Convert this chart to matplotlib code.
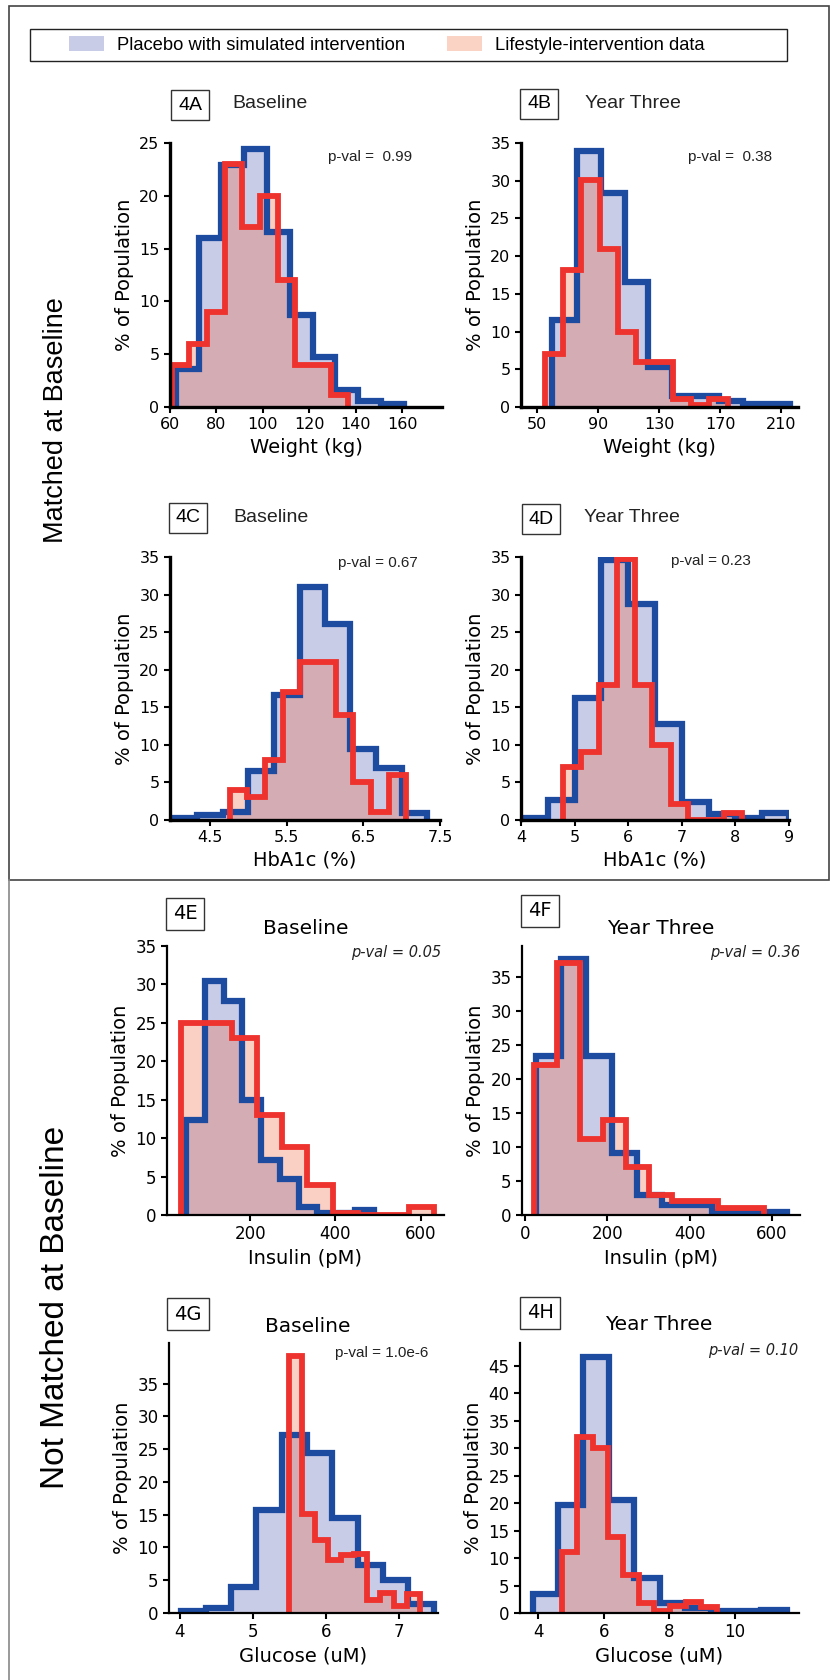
import matplotlib
matplotlib.use("Agg")
import matplotlib.pyplot as plt
from matplotlib.patches import Patch, Rectangle
from matplotlib.lines import Line2D

# ---- data (bin edges and % of population) ----
# 4A weight, baseline
a_blue_edges = [62.5, 72.3, 82.1, 91.9, 101.7, 111.5, 121.3, 131.1, 140.9, 150.7, 160.5]
a_blue = [3.6, 16.0, 22.9, 24.4, 16.6, 8.7, 4.7, 1.6, 0.6, 0.3]
a_red_edges = [60.7, 68.3, 75.9, 83.5, 91.1, 98.7, 106.3, 113.9, 121.5, 129.1, 136.7]
a_red = [4.0, 6.0, 9.0, 23.0, 17.0, 20.0, 12.0, 4.0, 4.0, 1.1]
# 4B weight, year three
b_blue_edges = [60, 76, 92, 107.5, 123, 138.5, 154, 169.5, 185, 200.5, 216]
b_blue = [11.6, 34.0, 28.4, 16.6, 5.3, 1.5, 1.4, 0.8, 0.4, 0.4]
b_red_edges = [55, 67, 79, 91, 103, 115, 127, 139, 151, 163, 175]
b_red = [7.0, 18.1, 30.1, 21.0, 9.9, 6.0, 6.0, 1.0, 0.2, 1.0]
# 4C HbA1c, baseline
c_blue_edges = [4.0, 4.33, 4.67, 5.0, 5.33, 5.67, 6.0, 6.33, 6.67, 7.0, 7.33]
c_blue = [0.2, 0.6, 1.1, 6.5, 16.6, 31.0, 26.1, 9.4, 6.9, 0.9]
c_red_edges = [4.76, 4.99, 5.22, 5.45, 5.68, 5.91, 6.14, 6.37, 6.60, 6.83, 7.06]
c_red = [4.0, 3.1, 8.0, 17.1, 21.0, 21.0, 14.0, 5.1, 1.1, 6.0]
# 4D HbA1c, year three
d_blue_edges = [4.0, 4.5, 5.0, 5.5, 6.0, 6.5, 7.0, 7.5, 8.0, 8.5, 9.0]
d_blue = [0.2, 2.7, 16.3, 34.6, 28.8, 12.8, 2.4, 0.8, 0.2, 0.9]
d_red_edges = [4.79, 5.12, 5.45, 5.79, 6.12, 6.45, 6.79, 7.12, 7.45, 7.79, 8.12]
d_red = [7.1, 9.0, 18.0, 34.8, 18.0, 10.0, 2.1, 0.0, 0.0, 0.9]
# 4E insulin, baseline
e_blue_edges = [50, 94, 138, 182, 226, 270, 314, 358, 402, 446, 490]
e_blue = [12.3, 30.5, 27.8, 14.9, 7.1, 4.7, 1.1, 0.3, 0.3, 0.65]
e_red_edges = [38, 97.3, 156.6, 215.9, 275.2, 334.5, 393.8, 453.1, 512.4, 571.7, 631]
e_red = [25.0, 25.0, 23.0, 13.0, 8.9, 3.9, 0.2, 0.0, 0.0, 1.0]
# 4F insulin, year three
f_blue_edges = [27, 88, 149, 210, 271, 332, 393, 454, 515, 576, 637]
f_blue = [23.4, 37.6, 23.4, 9.1, 2.9, 1.5, 1.5, 0.5, 0.5, 0.5]
f_red_edges = [22, 78, 134, 190, 246, 302, 358, 414, 470, 526, 582]
f_red = [22.0, 37.0, 11.1, 14.0, 7.0, 2.9, 2.0, 2.0, 1.0, 1.0]
# 4G glucose, baseline
g_blue_edges = [4.01, 4.36, 4.70, 5.05, 5.40, 5.74, 6.09, 6.44, 6.78, 7.13, 7.48]
g_blue = [0.25, 0.8, 3.9, 15.7, 27.2, 24.4, 14.5, 7.3, 5.1, 1.3]
g_red_edges = [5.49, 5.67, 5.85, 6.03, 6.21, 6.39, 6.57, 6.75, 6.93, 7.11, 7.29]
g_red = [39.2, 15.1, 11.2, 8.1, 8.9, 9.0, 2.0, 3.0, 1.1, 2.9]
# 4H glucose, year three
h_blue_edges = [3.83, 4.61, 5.38, 6.16, 6.94, 7.71, 8.49, 9.27, 10.04, 10.82, 11.6]
h_blue = [3.5, 19.6, 46.7, 20.6, 6.4, 1.8, 0.9, 0.3, 0.3, 0.5]
h_red_edges = [4.71, 5.18, 5.66, 6.13, 6.60, 7.08, 7.55, 8.03, 8.50, 8.98, 9.45]
h_red = [11.1, 32.0, 30.0, 13.9, 7.0, 1.9, 0.3, 1.2, 2.0, 1.1]

panel_ids = ["4A", "4B", "4C", "4D", "4E", "4F", "4G", "4H"]
titles = ["Baseline", "Year Three"] * 4
xlabels = ["Weight (kg)", "Weight (kg)", "HbA1c (%)", "HbA1c (%)",
           "Insulin (pM)", "Insulin (pM)", "Glucose (uM)", "Glucose (uM)"]
pvals = ["p-val =  0.99", "p-val =  0.38", "p-val = 0.67", "p-val = 0.23",
         "p-val = 0.05", "p-val = 0.36", "p-val = 1.0e-6", "p-val = 0.10"]
xticks = [[60, 80, 100, 120, 140, 160], [50, 90, 130, 170, 210],
          [4.5, 5.5, 6.5, 7.5], [4, 5, 6, 7, 8, 9],
          [200, 400, 600], [0, 200, 400, 600], [4, 5, 6, 7], [4, 6, 8, 10]]
yticks = [range(0, 30, 5)] + [range(0, 40, 5)] * 6 + [range(0, 50, 5)]
xlims = [(60, 177), (39.5, 221), (3.98, 7.5), (4, 9),
         (5, 655), (-8, 669), (3.85, 7.54), (3.44, 11.97)]
ylims = [25, 35, 35, 35, 35, 39.5, 41.2, 49.2]

hists = [(a_blue_edges, a_blue, a_red_edges, a_red),
         (b_blue_edges, b_blue, b_red_edges, b_red),
         (c_blue_edges, c_blue, c_red_edges, c_red),
         (d_blue_edges, d_blue, d_red_edges, d_red),
         (e_blue_edges, e_blue, e_red_edges, e_red),
         (f_blue_edges, f_blue, f_red_edges, f_red),
         (g_blue_edges, g_blue, g_red_edges, g_red),
         (h_blue_edges, h_blue, h_red_edges, h_red)]

BLUE_EDGE = "#1d4ba0"
BLUE_FILL = "#c8cce6"
RED_EDGE = "#ee332e"
RED_FILL = (0.94, 0.39, 0.24, 0.3)
HELV = "Liberation Sans"

W, H = 830, 1680
fig = plt.figure(figsize=(W / 100, H / 100), dpi=100)


def fx(x):
    return x / W


def fy(y):
    return 1 - y / H


# axes boxes in pixels: left, right, top, bottom
boxes = [(170, 442, 143, 407), (521, 798, 143, 407),
         (170, 440, 557, 820), (521, 789, 557, 820),
         (167, 444, 946, 1215), (522, 800, 946, 1215),
         (169, 438, 1343, 1613), (520, 799, 1343, 1613)]
# label box / title / p-value positions (pixels)
id_pos = [(190, 105), (539, 104), (188, 518), (541, 519),
          (185, 914), (540, 911), (188, 1314), (540, 1313)]
title_pos = [(232, 104), (585, 104), (233, 518), (584, 518),
             (306, 929), (661, 928), (308, 1326), (659, 1325)]
pval_pos = [(412, 157), (772, 157), (418, 563), (751, 561),
            (441, 953), (800, 953), (428, 1353), (798, 1350)]

for i, (l, r, t, b) in enumerate(boxes):
    upper = i < 4
    ax = fig.add_axes([fx(l), fy(b), (r - l) / W, (b - t) / H])
    be, bh, re_, rh = hists[i]
    ax.stairs(bh, be, fill=True, color=BLUE_FILL, lw=0)
    ax.stairs(rh, re_, fill=True, color=RED_FILL, lw=0)
    ax.stairs(bh, be, baseline=0, color=BLUE_EDGE, lw=4.5)
    ax.stairs(rh, re_, baseline=0, color=RED_EDGE, lw=4.2)
    ax.set_xlim(*xlims[i])
    ax.set_ylim(0, ylims[i])
    ax.set_xticks(xticks[i])
    ax.set_yticks(list(yticks[i]))
    for s in ["top", "right"]:
        ax.spines[s].set_visible(False)
    for s in ["left", "bottom"]:
        ax.spines[s].set_linewidth(2.4 if upper else 1.6)
    ax.tick_params(direction="out", length=4, width=1.5,
                   labelsize=11.5 if upper else 12)
    ax.set_xlabel(xlabels[i], fontsize=14)
    ax.set_ylabel("% of Population", fontsize=14)

    fig.text(fx(id_pos[i][0]), fy(id_pos[i][1]), panel_ids[i],
             family=HELV if upper else "DejaVu Sans", fontsize=14,
             ha="center", va="center",
             bbox=dict(boxstyle="square,pad=0.35", fc="white", ec="#333333", lw=1))
    if upper:
        fig.text(fx(title_pos[i][0]), fy(title_pos[i][1]), titles[i],
                 family=HELV, fontsize=14, ha="left", va="center", color="#222222")
    else:
        fig.text(fx(title_pos[i][0]), fy(title_pos[i][1]), titles[i],
                 fontsize=14.5, ha="center", va="center")
    italic = (not upper) and i != 6
    fig.text(fx(pval_pos[i][0]), fy(pval_pos[i][1]), pvals[i],
             family="DejaVu Sans" if italic else HELV,
             style="italic" if italic else "normal",
             fontsize=10.5 if italic else 11, ha="right", va="center",
             color="#222222")

# legend
handles = [Patch(facecolor=BLUE_FILL, edgecolor="none"),
           Patch(facecolor="#fbd3c4", edgecolor="none")]
fig.legend(handles, ["Placebo with simulated intervention", "Lifestyle-intervention data"],
           loc="center left", bbox_to_anchor=(fx(62), fy(45)), ncol=2,
           frameon=False, prop={"family": HELV, "size": 13.2},
           handlelength=1.9, handleheight=0.9, handletextpad=0.7,
           columnspacing=2.3, borderaxespad=0)
fig.add_artist(Rectangle((fx(30), fy(61)), 757 / W, 32 / H, transform=fig.transFigure,
                         fill=False, ec="#222222", lw=1))

# section borders
fig.add_artist(Rectangle((fx(9), fy(880)), 820 / W, 874 / H, transform=fig.transFigure,
                         fill=False, ec="#444444", lw=1.2))
fig.add_artist(Line2D([fx(9), fx(9)], [0, fy(880)], transform=fig.transFigure,
                      color="#888888", lw=1.2))

fig.text(fx(56), fy(420), "Matched at Baseline", family=HELV, fontsize=19.5,
         rotation=90, ha="center", va="center")
fig.text(fx(56), fy(1307), "Not Matched at Baseline", family=HELV, fontsize=24,
         rotation=90, ha="center", va="center")

fig.savefig("out.png", dpi=100)
